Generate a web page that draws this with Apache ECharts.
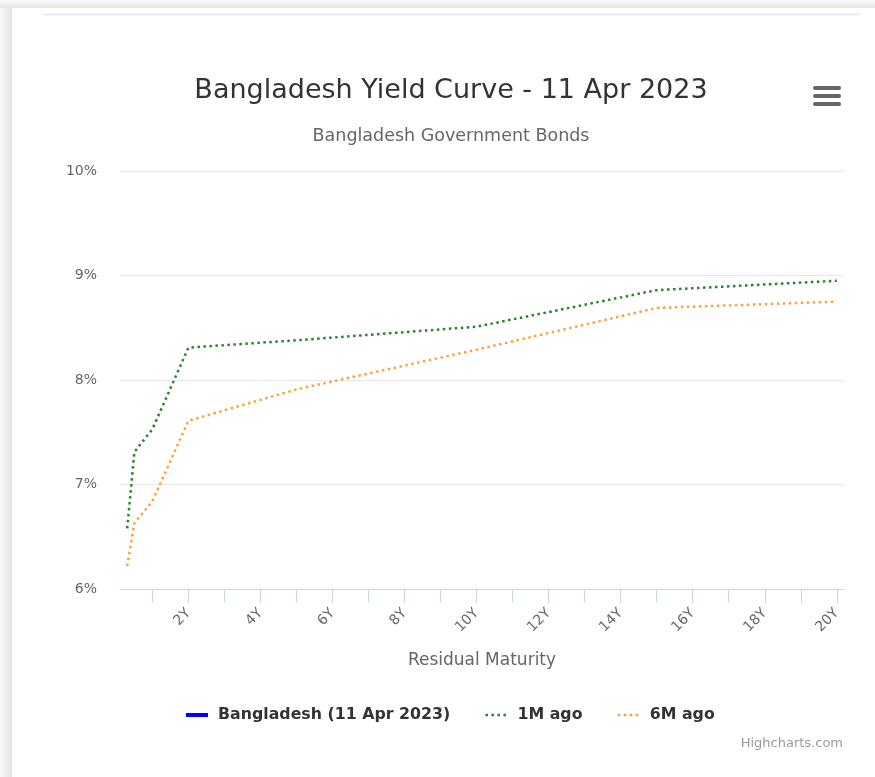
<!DOCTYPE html>
<html>
<head>
<meta charset="utf-8">
<script src="https://cdn.jsdelivr.net/npm/echarts@6/dist/echarts.min.js"></script>
<style>
html,body{margin:0;padding:0;background:#fff;}
#chart{width:875px;height:777px;}
</style>
</head>
<body>
<div id="chart"></div>
<script>
// Data
const maturities = [0.3, 0.5, 1, 2, 5, 10, 15, 20];           // years
const current = [];                                               // Bangladesh (11 Apr 2023) - no data drawn
const oneMonthAgo = [6.58, 7.31, 7.53, 8.31, 8.38, 8.51, 8.86, 8.95];
const sixMonthsAgo = [6.22, 6.63, 6.84, 7.61, 7.91, 8.29, 8.69, 8.75];
const xTickValues = [1,2,3,4,5,6,7,8,9,10,11,12,13,14,15,16,17,18,19,20];
const xLabelValues = [2,4,6,8,10,12,14,16,18,20];
const seriesNames = ['Bangladesh (11 Apr 2023)', '1M ago', '6M ago'];

const pair = (xs, ys) => ys.map((y, i) => [xs[i], y]);
const FONT = 'DejaVu Sans';

const chart = echarts.init(document.getElementById('chart'), null, {renderer: 'canvas'});
chart.setOption({
  animation: false,
  backgroundColor: '#ffffff',
  textStyle: {fontFamily: FONT},
  title: [
    {text: 'Bangladesh Yield Curve - 11 Apr 2023', left: 446, top: 72, textAlign: 'center',
     textStyle: {fontFamily: FONT, fontSize: 27, fontWeight: 'normal', color: '#333333'}},
    {text: 'Bangladesh Government Bonds', left: 446, top: 122, textAlign: 'center',
     textStyle: {fontFamily: FONT, fontSize: 17.5, fontWeight: 'normal', color: '#666666'}}
  ],
  graphic: [
    {type: 'rect', silent: true, z: -10, shape: {x: 0, y: 0, width: 12, height: 777},
     style: {fill: new echarts.graphic.LinearGradient(0, 0, 1, 0, [{offset: 0, color: '#fafafa'}, {offset: 1, color: '#e3e3e3'}])}},
    {type: 'rect', silent: true, z: -10, shape: {x: 0, y: 0, width: 875, height: 8},
     style: {fill: new echarts.graphic.LinearGradient(0, 0, 0, 1, [{offset: 0, color: '#fafafa'}, {offset: 1, color: '#e6e6e6'}])}},
    {type: 'line', silent: true, shape: {x1: 43, y1: 14.5, x2: 860, y2: 14.5},
     style: {stroke: '#e4e4ee', lineWidth: 1.5}},
    {type: 'rect', silent: true, shape: {x: 813, y: 86, width: 28, height: 4, r: 2}, style: {fill: '#666666'}},
    {type: 'rect', silent: true, shape: {x: 813, y: 94, width: 28, height: 4, r: 2}, style: {fill: '#666666'}},
    {type: 'rect', silent: true, shape: {x: 813, y: 102, width: 28, height: 4, r: 2}, style: {fill: '#666666'}},
    {type: 'text', silent: true, style: {text: 'Highcharts.com', x: 843, y: 744, align: 'right', verticalAlign: 'middle',
     fontFamily: FONT, fontSize: 13, fill: '#999999'}}
  ],
  legend: {
    data: [
      {name: seriesNames[0], lineStyle: {width: 4}},
      {name: seriesNames[1], lineStyle: {width: 2.5}},
      {name: seriesNames[2], lineStyle: {width: 2.5}}
    ],
    left: 179,
    top: 702,
    itemGap: 34,
    itemWidth: 22,
    itemHeight: 14,
    itemStyle: {opacity: 0},
    textStyle: {fontFamily: FONT, fontSize: 15.8, fontWeight: 'bold', color: '#333333', padding: [0, 0, 0, 5]}
  },
  grid: {left: 120, right: 31, top: 171, bottom: 188},
  xAxis: {
    type: 'value',
    min: 0.1,
    max: 20.2,
    name: 'Residual Maturity',
    nameLocation: 'middle',
    nameGap: 63,
    nameTextStyle: {fontFamily: FONT, fontSize: 17, color: '#666666'},
    axisLine: {show: true, lineStyle: {color: '#ccd6eb', width: 1}},
    axisTick: {show: true, customValues: xTickValues, length: 14, lineStyle: {color: '#ccd6eb', width: 1}},
    axisLabel: {customValues: xLabelValues, formatter: v => v + 'Y', rotate: 45, margin: 22,
      fontFamily: FONT, fontSize: 14, color: '#666666'},
    splitLine: {show: false}
  },
  yAxis: {
    type: 'value',
    min: 6,
    max: 10,
    interval: 1,
    axisLine: {show: false},
    axisTick: {show: false},
    axisLabel: {formatter: '{value}%', margin: 23, fontFamily: FONT, fontSize: 14, color: '#666666'},
    splitLine: {lineStyle: {color: '#e6e6e6', width: 1}}
  },
  series: [
    {name: seriesNames[0], type: 'line', data: pair(maturities, current), symbol: 'none',
     color: '#0000ff', lineStyle: {color: '#0000ff', width: 4}},
    {name: seriesNames[1], type: 'line', data: pair(maturities, oneMonthAgo), symbol: 'none',
     color: '#2a832a', lineStyle: {color: '#2a832a', width: 2.5, type: [2.5, 3.5]}},
    {name: seriesNames[2], type: 'line', data: pair(maturities, sixMonthsAgo), symbol: 'none',
     color: '#ffa040', lineStyle: {color: '#ffa040', width: 2.5, type: [2.5, 3.5]}}
  ]
});
</script>
</body>
</html>
